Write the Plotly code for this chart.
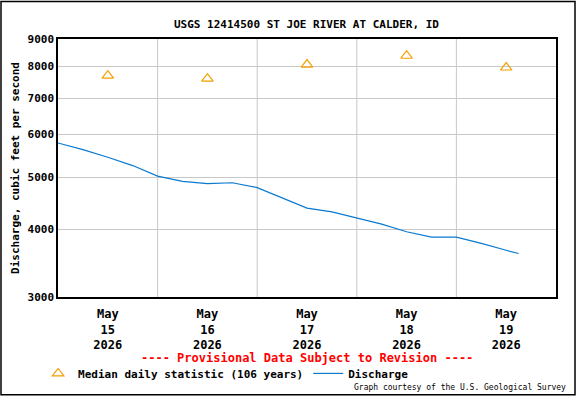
import plotly.graph_objects as go
import pandas as pd

hours = [0, 6, 12, 18, 24, 30, 36, 42, 48, 54, 60, 66, 72, 78, 84, 90, 96, 102, 108, 111]
flow = [5780, 5620, 5440, 5250, 5020, 4910, 4860, 4880, 4780, 4570, 4380, 4310, 4200, 4090, 3960, 3870, 3870, 3770, 3660, 3610]
median_days = ["2026-05-15 12:00", "2026-05-16 12:00", "2026-05-17 12:00", "2026-05-18 12:00", "2026-05-19 12:00"]
median_vals = [7700, 7600, 8070, 8380, 7970]
yticks = [3000, 4000, 5000, 6000, 7000, 8000, 9000]

t0 = pd.Timestamp("2026-05-15 00:00")
times = [t0 + pd.Timedelta(hours=h) for h in hours]
F = "DejaVu Sans Mono"

fig = go.Figure()
fig.add_trace(go.Scatter(x=median_days, y=median_vals, mode="markers", name="<b>Median daily statistic (106 years)</b>",
                         marker=dict(symbol="triangle-up-open", size=10, color="#f5a000", line=dict(width=1.2))))
fig.add_trace(go.Scatter(x=times, y=flow, mode="lines", name="<b>Discharge</b>", line=dict(color="#0a7ad0", width=1.2)))

fig.update_layout(
    width=576, height=400, paper_bgcolor="white", plot_bgcolor="white",
    margin=dict(l=58, r=20, t=39, b=100),
    font=dict(family=F, size=11, color="black"),
    title=dict(text="<b>USGS 12414500 ST JOE RIVER AT CALDER, ID</b>", x=0.532, xanchor="center", y=0.95, font=dict(size=11)),
    showlegend=True,
    legend=dict(orientation="h", x=-0.04, y=-0.24, xanchor="left", yanchor="top", font=dict(size=11),
                bgcolor="rgba(0,0,0,0)", itemwidth=30, tracegroupgap=0, entrywidthmode="pixels"),
    xaxis=dict(range=["2026-05-15 00:00", "2026-05-20 00:00"], showline=True, linecolor="black", linewidth=1.5, mirror=True,
               tickvals=median_days, ticktext=["<b>May<br>%d<br>2026</b>" % d for d in range(15, 20)],
               showgrid=False, ticks="", ticklabelstandoff=5, tickfont=dict(size=12)),
    yaxis=dict(type="log", range=[3.4771, 3.9542], showline=True, linecolor="black", linewidth=1.5, mirror=True,
               tickvals=yticks, ticktext=["<b>%d</b>" % v for v in yticks], gridcolor="#c8c8c8", ticks="",
               title=dict(text="<b>Discharge, cubic feet per second</b>", standoff=6, font=dict(size=11))),
    shapes=[dict(type="rect", xref="paper", yref="paper", x0=-57/498, x1=1+19/498, y0=-99/261, y1=1+38/261,
                 line=dict(color="black", width=1.5))] +
           [dict(type="line", xref="x", yref="paper", x0="2026-05-%d 00:00" % d, x1="2026-05-%d 00:00" % d, y0=0, y1=1,
                 line=dict(color="#c8c8c8", width=1), layer="below") for d in range(16, 20)],
    annotations=[
        dict(text="<b>---- Provisional Data Subject to Revision ----</b>", xref="paper", yref="paper", x=0.5, y=-0.238,
             yanchor="middle", showarrow=False, font=dict(color="red", size=12)),
        dict(text="Graph courtesy of the U.S. Geological Survey", xref="paper", yref="paper", x=1.025, y=-0.352,
             xanchor="right", yanchor="middle", showarrow=False, font=dict(size=8)),
    ],
)
fig.write_html("out.html", config=dict(displayModeBar=False))
with open("out.html") as f:
    html = f.read()
html = html.replace("<head>", "<head><style>html,body{margin:0;padding:0;overflow:hidden}</style>", 1)
with open("out.html", "w") as f:
    f.write(html)
